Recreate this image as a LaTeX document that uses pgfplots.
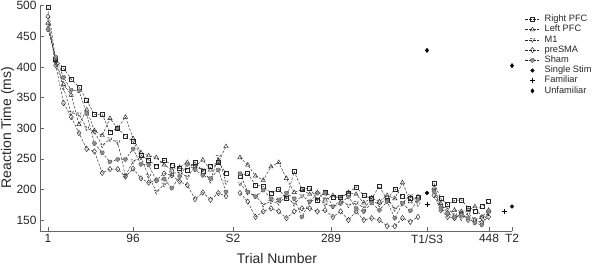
\documentclass[border=0pt]{standalone}
\usepackage{pgfplots}
\usepackage{pgfplotstable}
\pgfplotsset{compat=1.18}
\usepackage{fontspec}
\setmainfont{Liberation Sans}

\pgfplotstableread{
x rp lp mone ps sh
48.0 497 472 468 482 461
55.7 412 410 408 403 416
63.5 398 372 366 341 383
71.2 380 354 325 318 362
79.0 367 306 323 292 361
86.7 346 330 300 266 324
94.4 322 296 294 262 275
102.2 323 288 272 227 260
109.9 294 316 282 233 245
117.7 300 300 277 233 249
125.4 287 318 222 221 249
133.1 278 283 246 234 266
140.9 256 260 252 218 241
148.6 248 255 222 211 240
156.4 238 252 196 215 214
164.1 248 240 208 226 217
171.8 240 232 226 223 202
179.6 235 236 228 213 221
187.3 232 244 220 207 241
195.1 245 238 237 184 232
202.8 229 248 232 195 223
210.5 238 232 214 183 218
218.3 244 244 253 194 232
226.0 227 270 212 189 196
nan nan nan nan nan nan
240.0 222 252 210 194 226
247.7 226 240 195 180 196
255.5 207 222 190 155 188
263.2 205 215 175 164 199
271.0 194 237 180 169 185
278.7 200 244 178 164 183
286.4 185 218 188 153 194
294.2 229 195 176 164 185
301.9 200 200 190 169 155
309.7 202 192 180 169 180
317.4 183 195 185 164 194
325.1 196 183 176 166 194
332.9 187 190 172 155 172
340.6 187 186 182 164 177
348.4 194 195 174 150 188
356.1 204 192 178 164 169
363.8 190 178 170 150 164
371.6 185 186 183 153 178
379.3 205 180 175 150 166
387.1 183 190 186 140 180
394.8 201 185 168 140 153
402.5 188 211 178 153 177
410.3 186 180 190 147 165
418.0 187 188 176 155 183
nan nan nan nan nan nan
434.0 210 202 199 190 196
440.8 185 177 172 166 169
447.6 175 161 169 155 161
454.5 182 166 158 153 155
461.3 183 164 153 160 158
468.1 170 166 161 150 153
474.9 165 172 150 150 145
481.8 172 155 153 146 142
488.6 180 166 161 155 164
}\rtdata

\pgfplotsset{
  rt/.style={black!85, dash pattern=on 2.5bp off 1.5bp, line width=0.45bp,
    mark options={solid, fill=white, draw=black!85, line width=0.45bp}},
  onemark/.style={legend image code/.code={\draw[##1] plot coordinates {(7bp,0bp)};}},
  linemark/.style={legend image code/.code={\draw[mark repeat=2,mark phase=2,##1] plot coordinates {(0bp,0bp) (7bp,0bp) (14bp,0bp)};}},
}

\begin{document}
\begin{tikzpicture}
\begin{axis}[
  at={(40bp,35bp)}, anchor=south west, scale only axis,
  width=472bp, height=225.3bp,
  xmin=40, xmax=512, ymin=132, ymax=500,
  axis x line*=bottom, axis y line*=left,
  axis line style={black!60, line width=0.5bp},
  tick align=inside, major tick length=4bp,
  tick style={black!60, line width=0.5bp},
  xtick={48,133,233,331,427,489,512},
  xticklabels={1,96,S2,289,T1/S3,448,T2},
  ytick={150,200,250,300,350,400,450,500},
  tick label style={font=\fontsize{12}{12}\selectfont, text=black!85},
  /pgf/number format/assume math mode=true,
  xlabel={Trial Number}, ylabel={Reaction Time (ms)},
  label style={font=\fontsize{14}{14}\selectfont, text=black!85},
  xlabel style={at={(axis description cs:0.502,-0.123)}, anchor=center},
  ylabel style={at={(axis description cs:-0.069,0.459)}, anchor=center},
  clip=false,
  unbounded coords=jump,
  legend cell align=left,
  legend style={at={(axis description cs:1,1)}, anchor=north west, xshift=13bp, yshift=-8.5bp,
    draw=none, fill=none, font=\fontsize{9.3}{10}\selectfont, text=black!85,
    inner sep=0pt, row sep=0pt,
    nodes={inner sep=0.5bp, text height=6.9bp, text depth=2.3bp},
    /tikz/every odd column/.append style={column sep=4.5bp}},
]
\addplot[rt, linemark, mark=square, mark size=2bp] table[x=x,y=rp]{\rtdata};
\addlegendentry{Right PFC}
\addplot[rt, linemark, mark=triangle, mark size=2.5bp] table[x=x,y=lp]{\rtdata};
\addlegendentry{Left PFC}
\addplot[rt, linemark, mark=triangle, mark size=2.5bp, mark options={rotate=180}] table[x=x,y=mone]{\rtdata};
\addlegendentry{M1}
\addplot[rt, linemark, mark=diamond, mark size=2.7bp] table[x=x,y=ps]{\rtdata};
\addlegendentry{preSMA}
\addplot[rt, linemark, mark=*, mark size=2.1bp, mark options={fill=black!45, draw=black!70}] table[x=x,y=sh]{\rtdata};
\addlegendentry{Sham}
\addplot[only marks, mark=*, mark size=1.8bp, black, onemark]
  coordinates {(427,194) (512,172)};
\addlegendentry{Single Stim}
\addplot[only marks, mark=+, mark size=2.5bp, black, line width=0.5bp, onemark]
  coordinates {(427,176) (504,164)};
\addlegendentry{Familiar}
\addplot[only marks, mark=diamond*, mark size=2.2bp, black, onemark]
  coordinates {(427,427) (512,402)};
\addlegendentry{Unfamiliar}
\end{axis}
\pgfresetboundingbox
\path[use as bounding box] (0,0) rectangle (600bp,266bp);
\end{tikzpicture}
\end{document}
